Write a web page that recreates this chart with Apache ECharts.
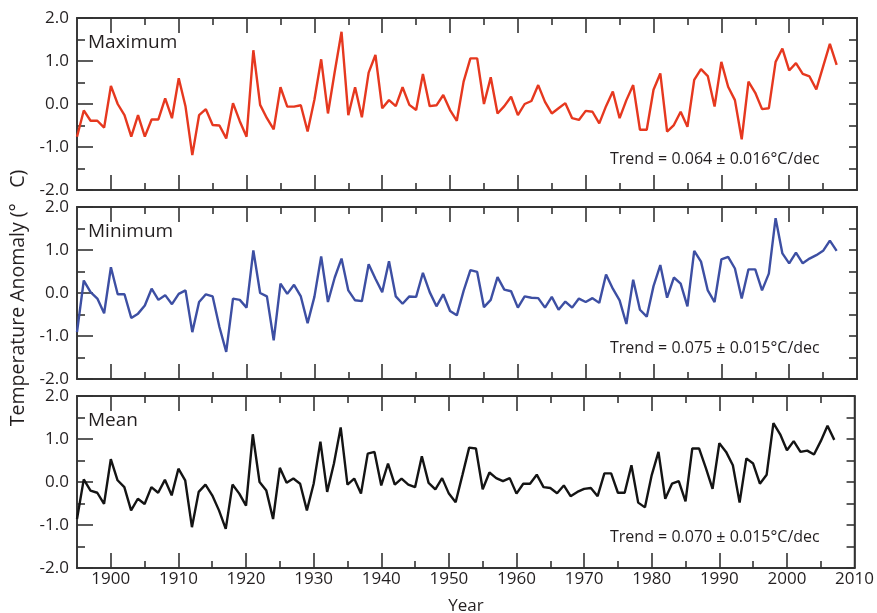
<!DOCTYPE html>
<html>
<head>
<meta charset="utf-8">
<script src="https://cdn.jsdelivr.net/npm/echarts@6/dist/echarts.min.js"></script>
<style>
html, body { margin: 0; padding: 0; background: #fff; }
#main { width: 877px; height: 613px; }
</style>
</head>
<body>
<div id="main"></div>
<script>
// annual anomalies, 1895 .. 2007 (one row per decade)
var firstYear = 1895;
var tMax = [
                                -0.76, -0.15, -0.39, -0.39, -0.55,
  0.42, 0.00, -0.26, -0.76, -0.26, -0.76, -0.36, -0.36, 0.13, -0.33,
  0.60, -0.06, -1.19, -0.26, -0.12, -0.49, -0.50, -0.80, 0.02, -0.40,
  -0.76, 1.25, -0.02, -0.33, -0.59, 0.39, -0.06, -0.06, -0.03, -0.64,
  0.10, 1.04, -0.22, 0.75, 1.68, -0.26, 0.39, -0.31, 0.73, 1.14,
  -0.10, 0.09, -0.05, 0.39, -0.02, -0.14, 0.70, -0.05, -0.03, 0.21,
  -0.14, -0.39, 0.52, 1.06, 1.06, 0.00, 0.62, -0.22, -0.05, 0.17,
  -0.26, 0.00, 0.07, 0.44, 0.05, -0.22, -0.10, 0.02, -0.33, -0.37,
  -0.16, -0.18, -0.45, -0.05, 0.29, -0.33, 0.09, 0.44, -0.60, -0.60,
  0.33, 0.71, -0.64, -0.49, -0.18, -0.53, 0.56, 0.81, 0.65, -0.06,
  0.98, 0.40, 0.09, -0.82, 0.52, 0.26, -0.12, -0.10, 0.98, 1.29,
  0.78, 0.95, 0.70, 0.64, 0.34, 0.87, 1.40, 0.91
];
var tMin = [
                                -0.91, 0.29, 0.02, -0.13, -0.47,
  0.60, -0.03, -0.03, -0.58, -0.48, -0.29, 0.10, -0.16, -0.05, -0.26,
  -0.02, 0.06, -0.91, -0.21, -0.03, -0.08, -0.79, -1.37, -0.13, -0.16,
  -0.34, 0.99, 0.00, -0.08, -1.10, 0.22, -0.02, 0.19, -0.08, -0.70,
  -0.09, 0.85, -0.21, 0.36, 0.80, 0.06, -0.17, -0.19, 0.67, 0.33,
  0.02, 0.74, -0.08, -0.25, -0.08, -0.09, 0.47, 0.02, -0.31, -0.03,
  -0.42, -0.52, 0.05, 0.53, 0.49, -0.33, -0.16, 0.37, 0.08, 0.04,
  -0.34, -0.08, -0.11, -0.12, -0.34, -0.09, -0.39, -0.20, -0.34, -0.13,
  -0.21, -0.12, -0.23, 0.43, 0.10, -0.17, -0.72, 0.31, -0.39, -0.55,
  0.16, 0.65, -0.11, 0.36, 0.22, -0.31, 0.98, 0.73, 0.06, -0.21,
  0.78, 0.84, 0.57, -0.13, 0.55, 0.55, 0.06, 0.45, 1.74, 0.92,
  0.69, 0.94, 0.69, 0.80, 0.88, 0.98, 1.22, 0.98
];
var tMean = [
                                -0.86, 0.06, -0.20, -0.25, -0.51,
  0.53, 0.04, -0.12, -0.66, -0.39, -0.51, -0.12, -0.25, 0.05, -0.31,
  0.31, 0.04, -1.05, -0.23, -0.06, -0.31, -0.66, -1.09, -0.06, -0.27,
  -0.55, 1.11, 0.00, -0.20, -0.86, 0.33, -0.02, 0.08, -0.04, -0.66,
  -0.04, 0.94, -0.23, 0.43, 1.27, -0.06, 0.08, -0.27, 0.66, 0.70,
  -0.08, 0.43, -0.06, 0.08, -0.06, -0.12, 0.60, -0.02, -0.17, 0.09,
  -0.27, -0.47, 0.16, 0.80, 0.78, -0.17, 0.22, 0.09, 0.02, 0.09,
  -0.27, -0.04, -0.04, 0.17, -0.12, -0.14, -0.26, -0.08, -0.33, -0.23,
  -0.16, -0.14, -0.33, 0.20, 0.20, -0.25, -0.25, 0.39, -0.48, -0.59,
  0.16, 0.70, -0.39, -0.04, 0.02, -0.45, 0.78, 0.78, 0.33, -0.16,
  0.90, 0.70, 0.39, -0.48, 0.55, 0.43, -0.04, 0.17, 1.37, 1.11,
  0.74, 0.95, 0.70, 0.73, 0.64, 0.95, 1.31, 0.98
];
var panelNames = ['Maximum', 'Minimum', 'Mean'];
var trendLabels = [
  'Trend = 0.064 ± 0.016°C/dec',
  'Trend = 0.075 ± 0.015°C/dec',
  'Trend = 0.070 ± 0.015°C/dec'
];
var decadeTicks = [1900, 1910, 1920, 1930, 1940, 1950, 1960, 1970, 1980, 1990, 2000];
var halfDecadeTicks = [1905, 1915, 1925, 1935, 1945, 1955, 1965, 1975, 1985, 1995, 2005];
var yearLabels = [1900, 1910, 1920, 1930, 1940, 1950, 1960, 1970, 1980, 1990, 2000, 2010];

var font = 'Open Sans';
var ink = '#231f20';
var frame = '#333333';
var lineColors = ['#e6381f', '#3d4fa3', '#141414'];
var gridTops = [18, 207, 396];
var gridH = 172;

var myChart = echarts.init(document.getElementById('main'));

var grids = [], xAxes = [], yAxes = [], series = [], texts = [];
[tMax, tMin, tMean].forEach(function (vals, i) {
  grids.push({
    left: 77, right: 20, top: gridTops[i], height: gridH,
    show: true, borderColor: frame, borderWidth: 1.6
  });
  // long ticks at decades, short ones in between, on bottom and top
  [['bottom', 15, decadeTicks], ['top', 15, decadeTicks],
   ['bottom', 7, halfDecadeTicks], ['top', 7, halfDecadeTicks]].forEach(function (t, k) {
    xAxes.push({
      type: 'value', gridIndex: i, position: t[0], min: 1895, max: 2010,
      axisLine: { show: true, onZero: false, lineStyle: { color: frame, width: 1.6 } },
      axisTick: { show: true, inside: true, length: t[1], customValues: t[2],
                  lineStyle: { color: frame, width: 1.6 } },
      axisLabel: { show: i === 2 && k === 0, customValues: yearLabels, margin: 3,
                   fontFamily: font, fontSize: 17, color: ink,
                   formatter: function (v) { return String(v); } },
      splitLine: { show: false }
    });
  });
  yAxes.push({
    type: 'value', gridIndex: i, position: 'left', min: -2, max: 2, interval: 1,
    axisLine: { show: true, onZero: false, lineStyle: { color: frame, width: 1.6 } },
    axisTick: { show: true, inside: true, length: 16, lineStyle: { color: frame, width: 1.6 } },
    minorTick: { show: true, splitNumber: 2, length: 8, lineStyle: { color: frame, width: 1.6 } },
    axisLabel: { margin: 8, fontFamily: font, fontSize: 17, color: ink,
                 formatter: function (v) { return v.toFixed(1); } },
    splitLine: { show: false }
  });
  yAxes.push({
    type: 'value', gridIndex: i, position: 'right', min: -2, max: 2, interval: 0.5,
    axisLine: { show: true, onZero: false, lineStyle: { color: frame, width: 1.6 } },
    axisTick: { show: true, inside: true, length: 8, lineStyle: { color: frame, width: 1.6 } },
    axisLabel: { show: false },
    splitLine: { show: false }
  });
  series.push({
    type: 'line', xAxisIndex: i * 4, yAxisIndex: i * 2,
    data: vals.map(function (v, j) { return [firstYear + j, v]; }),
    showSymbol: false, symbol: 'none',
    lineStyle: { color: lineColors[i], width: 2.4 },
    itemStyle: { color: lineColors[i] }
  });
  texts.push({
    type: 'text', x: 88, y: gridTops[i] + 25,
    style: { text: panelNames[i], font: '19px "Open Sans"', fill: ink, verticalAlign: 'middle' }
  });
  texts.push({
    type: 'text', x: 610, y: gridTops[i] + 141,
    style: { text: trendLabels[i], font: '16px "Open Sans"', fill: ink, verticalAlign: 'middle' }
  });
});

texts.push({
  type: 'text', x: 18, y: 298, rotation: Math.PI / 2,
  style: { text: 'Temperature Anomaly (°   C)', font: '19.5px "Open Sans"', fill: ink,
           align: 'center', verticalAlign: 'middle' }
});
texts.push({
  type: 'text', x: 466, y: 606,
  style: { text: 'Year', font: '17px "Open Sans"', fill: ink, align: 'center', verticalAlign: 'middle' }
});

option = {
  animation: false,
  backgroundColor: '#fff',
  grid: grids,
  xAxis: xAxes,
  yAxis: yAxes,
  series: series,
  graphic: texts
};
myChart.setOption(option);
</script>
</body>
</html>
